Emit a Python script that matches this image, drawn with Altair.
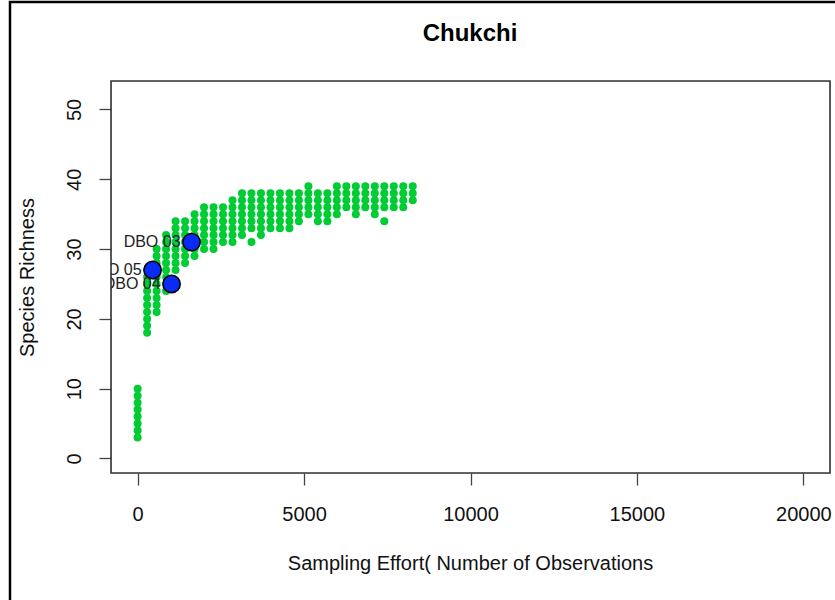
import altair as alt
import pandas as pd

# --- data ------------------------------------------------------------------
# rarefaction grid: one column of points per effort level,
# richness filled between the lowest and highest dot seen in that column
effort = [0, 285, 570, 855, 1140, 1425, 1710, 1995, 2280, 2565,
          2850, 3135, 3420, 3705, 3990, 4275, 4560, 4845, 5130, 5415,
          5700, 5985, 6270, 6555, 6840, 7125, 7410, 7695, 7980, 8265]
rich_lo = [3, 18, 21, 24, 27, 28, 29, 30, 30, 31,
           31, 32, 33, 32, 33, 33, 33, 34, 35, 34,
           34, 35, 36, 35, 36, 35, 36, 36, 36, 37]
rich_hi = [10, 27, 30, 32, 34, 34, 35, 36, 36, 36,
           37, 38, 38, 38, 38, 38, 38, 38, 39, 38,
           38, 39, 39, 39, 39, 39, 39, 39, 39, 39]
# isolated dots below the grid
extra_effort = [3420, 7410]
extra_rich = [31, 34]

# observed stations
stations = ["DBO 03", "DBO 05", "DBO 04"]
st_effort = [1620, 450, 1020]
st_rich = [31, 27, 25]

x_ticks = [0, 5000, 10000, 15000, 20000]
y_ticks = [0, 10, 20, 30, 40, 50]
title_text = ["Chukchi"]

# --- tables -------------------------------------------------------------------
rows = []
for e, lo, hi in zip(effort, rich_lo, rich_hi):
    for r in range(lo, hi + 1):
        rows.append({"effort": e, "rich": r})
for e, r in zip(extra_effort, extra_rich):
    rows.append({"effort": e, "rich": r})
grid = pd.DataFrame(rows)
obs = pd.DataFrame({"station": stations, "effort": st_effort, "rich": st_rich})

FONT = "Liberation Sans"
W, H = 719, 392

x_scale = alt.Scale(domain=[-800, 20800], nice=False, zero=False)
y_scale = alt.Scale(domain=[-2.08, 54.08], nice=False, zero=False)

x_axis = alt.Axis(values=x_ticks, format="d", grid=False, domain=False,
                  tickSize=12, tickColor="#444", tickWidth=1.3,
                  labelFontSize=20, labelFont=FONT, labelColor="#111",
                  labelPadding=29, labelBaseline="middle", labelFlush=False,
                  title="Sampling Effort( Number of Observations",
                  titleFont=FONT, titleFontSize=20, titleFontWeight="normal",
                  titleColor="#111", titleBaseline="alphabetic",
                  titleX=359, titleY=96)
y_axis = alt.Axis(values=y_ticks, format="d", grid=False, domain=False,
                  tickSize=12, tickColor="#444", tickWidth=1.3,
                  labelFontSize=20, labelFont=FONT, labelColor="#111",
                  labelAngle=270, labelAlign="center", labelBaseline="middle",
                  labelPadding=25, labelFlush=False,
                  title="Species Richness", titleFont=FONT, titleFontSize=20,
                  titleFontWeight="normal", titleColor="#111",
                  titleAngle=270, titleAlign="center", titleBaseline="middle",
                  titleX=-84, titleY=196)

X = alt.X("effort:Q", scale=x_scale, axis=x_axis)
Y = alt.Y("rich:Q", scale=y_scale, axis=y_axis)

green = alt.Chart(grid).mark_circle(color="#00cc33", size=64, opacity=1).encode(x=X, y=Y)

blue = alt.Chart(obs).mark_circle(fill="#0a2af5", stroke="black", strokeWidth=1.5,
                                  size=300, opacity=1).encode(
    x=alt.X("effort:Q", scale=x_scale), y=alt.Y("rich:Q", scale=y_scale))

labels = alt.Chart(obs).mark_text(align="right", baseline="middle", dx=-11,
                                  fontSize=16, font=FONT, color="#222",
                                  clip=True).encode(
    x=alt.X("effort:Q", scale=x_scale), y=alt.Y("rich:Q", scale=y_scale),
    text="station:N")

title = alt.Chart(pd.DataFrame({"t": title_text})).mark_text(
    align="center", baseline="alphabetic", fontSize=24, fontWeight="bold",
    font=FONT, color="#000").encode(
    x=alt.value(359), y=alt.value(-40), text="t:N")

# plot box (R's box()) and the outer figure border
box = alt.Chart(pd.DataFrame({"a": [0]})).mark_rect(
    fillOpacity=0, stroke="#333", strokeWidth=1.6).encode(
    x=alt.value(0), x2=alt.value(W), y=alt.value(0), y2=alt.value(H))

frame = alt.Chart(pd.DataFrame({"a": [0]})).mark_rect(
    fillOpacity=0, stroke="black", strokeWidth=2.5).encode(
    x=alt.value(-101), x2=alt.value(900), y=alt.value(-79), y2=alt.value(700))

chart = alt.layer(green, blue, labels, title, box, frame).properties(
    width=W, height=H,
    autosize=alt.AutoSizeParams(type="none"),
    padding={"left": 111, "top": 81, "right": 5, "bottom": 127},
).configure_view(strokeWidth=0).configure(background="white")

chart.save("out.html", embed_options={"renderer": "svg", "actions": False})
